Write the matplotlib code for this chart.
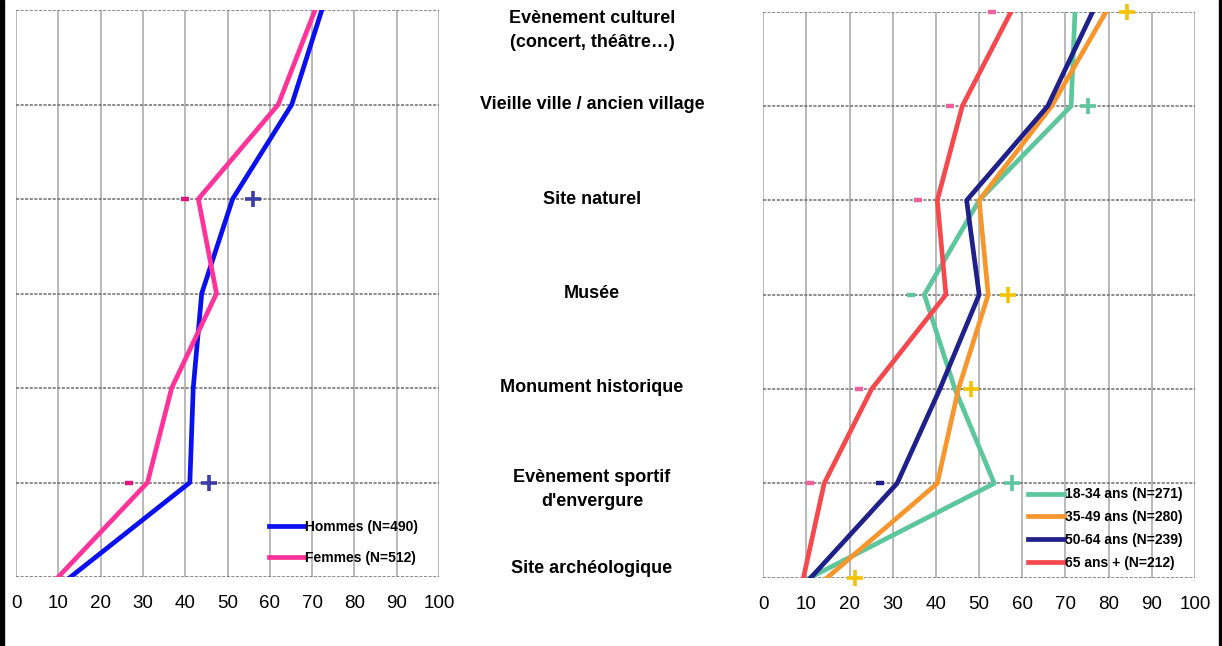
import matplotlib
matplotlib.use("Agg")
import matplotlib.pyplot as plt
from matplotlib.patches import Rectangle
from matplotlib.transforms import blended_transform_factory, ScaledTranslation

plt.rcParams['font.family'] = ['Liberation Sans', 'DejaVu Sans']

categories = ["Evènement culturel\n(concert, théâtre…)",
              "Vieille ville / ancien village",
              "Site naturel",
              "Musée",
              "Monument historique",
              "Evènement sportif\nd'envergure",
              "Site archéologique"]
rows = list(range(len(categories)))

hommes = [72.3, 65.2, 51.2, 43.9, 41.9, 41.1, 12.9]
femmes = [70.7, 62.0, 43.1, 47.4, 36.8, 31.1, 10.0]
gender_labels = ["Hommes (N=490)", "Femmes (N=512)"]

age_18_34 = [72.2, 71.3, 50.0, 37.3, 44.4, 53.5, 10.8]
age_35_49 = [79.4, 66.8, 50.0, 52.1, 45.2, 40.3, 14.8]
age_50_64 = [76.3, 65.9, 47.1, 50.0, 40.9, 31.0, 11.0]
age_65_plus = [57.4, 46.1, 40.3, 42.3, 25.1, 14.1, 9.3]
age_labels = ["18-34 ans (N=271)", "35-49 ans (N=280)",
              "50-64 ans (N=239)", "65 ans + (N=212)"]

# significance markers: (row, value)
g_plus_rows = [2, 5]
g_plus_vals = [56.1, 45.7]
g_minus_rows = [2, 5]
g_minus_vals = [40.0, 26.8]

a_gold_plus_rows = [0, 3, 4, 6]
a_gold_plus_vals = [84.2, 56.6, 48.0, 21.2]
a_green_plus_rows = [1, 5]
a_green_plus_vals = [75.3, 57.5]
a_pink_minus_rows = [0, 1, 2, 4, 5]
a_pink_minus_vals = [52.9, 43.2, 35.8, 22.2, 10.8]
a_green_minus_rows = [3]
a_green_minus_vals = [34.3]
a_navy_minus_rows = [5]
a_navy_minus_vals = [27.0]

xticks = list(range(0, 101, 10))

W, H = 1222, 646
fig = plt.figure(figsize=(W / 100, H / 100), dpi=100)


def px_axes(x0, x1, ytop, ybot):
    return fig.add_axes([x0 / W, 1 - ybot / H, (x1 - x0) / W, (ybot - ytop) / H])


def style(ax):
    ax.set_xlim(0, 100)
    ax.set_ylim(len(categories) - 1, 0)
    for s in ax.spines.values():
        s.set_visible(False)
    ax.set_xticks(xticks)
    ax.set_yticks([])
    ax.tick_params(axis='x', length=0, pad=13, labelsize=13.5)
    for x in xticks:
        ax.axvline(x, color='#b9b9b9', lw=1.4, zorder=0.5)
    for r in rows:
        ax.axhline(r, color='#6e6e6e', lw=1.1, ls=(0, (2, 1)), zorder=0.6)


axL = px_axes(16, 439, 10, 577)
style(axL)
axL.plot(hommes, rows, color='#0a10ee', lw=3.4, label=gender_labels[0], zorder=3)
axL.plot(femmes, rows, color='#ff3399', lw=3.4, label=gender_labels[1], zorder=3)
axL.plot(g_plus_vals, g_plus_rows, ls='none', marker='+', ms=11, mew=2.6,
         color='#3c3ca8', clip_on=False, zorder=4)
axL.plot(g_minus_vals, g_minus_rows, ls='none', marker='_', ms=6, mew=3.2,
         color='#e0157e', clip_on=False, zorder=4)
axL.legend(loc='upper left', bbox_to_anchor=(0.598, 0.10), frameon=False,
           borderpad=0, borderaxespad=0, handlelength=2.5, handletextpad=0.1,
           labelspacing=1.21, prop={'size': 10, 'weight': 'bold'})

axR = px_axes(763.3, 1195, 11.7, 577.7)
style(axR)
age_series = [age_18_34, age_35_49, age_50_64, age_65_plus]
age_colors = ['#5cc69c', '#f7962d', '#20208a', '#f5494e']
for vals, col, lab in zip(age_series, age_colors, age_labels):
    axR.plot(vals, rows, color=col, lw=3.4, label=lab, zorder=3)
axR.plot(a_gold_plus_vals, a_gold_plus_rows, ls='none', marker='+', ms=11, mew=2.6,
         color='#f5c200', clip_on=False, zorder=4)
axR.plot(a_green_plus_vals, a_green_plus_rows, ls='none', marker='+', ms=11, mew=2.6,
         color='#5cc69c', clip_on=False, zorder=4)
axR.plot(a_pink_minus_vals, a_pink_minus_rows, ls='none', marker='_', ms=6, mew=3.2,
         color='#f0609c', clip_on=False, zorder=4)
axR.plot(a_green_minus_vals, a_green_minus_rows, ls='none', marker='_', ms=6, mew=3.2,
         color='#5cc69c', clip_on=False, zorder=4)
axR.plot(a_navy_minus_vals, a_navy_minus_rows, ls='none', marker='_', ms=6, mew=3.2,
         color='#20208a', clip_on=False, zorder=4)
axR.legend(loc='upper left', bbox_to_anchor=(0.612, 0.1595), frameon=False,
           borderpad=0, borderaxespad=0, handlelength=2.6, handletextpad=0.1,
           labelspacing=0.63, prop={'size': 10, 'weight': 'bold'})

# centre category labels
tr = blended_transform_factory(fig.transFigure, axL.transData)
n = len(categories)
for i, (r, lab) in enumerate(zip(rows, categories)):
    t = tr
    if i == 0:
        va = 'top'
    elif i == n - 1:
        va = 'bottom'
    else:
        va = 'center'
        if '\n' in lab:
            t = tr + ScaledTranslation(0, -7 / 100, fig.dpi_scale_trans)
    fig.text(592 / W, r, lab, transform=t, ha='center', va=va, fontsize=13,
             fontweight='bold', linespacing=1.55)

# frame strips
fig.patches.append(Rectangle((0, 0), 4 / W, 1, transform=fig.transFigure,
                             color='black', zorder=10))
fig.patches.append(Rectangle((1219 / W, 0), 2 / W, 1, transform=fig.transFigure,
                             color='black', zorder=10))

fig.savefig("out.png", dpi=100)
